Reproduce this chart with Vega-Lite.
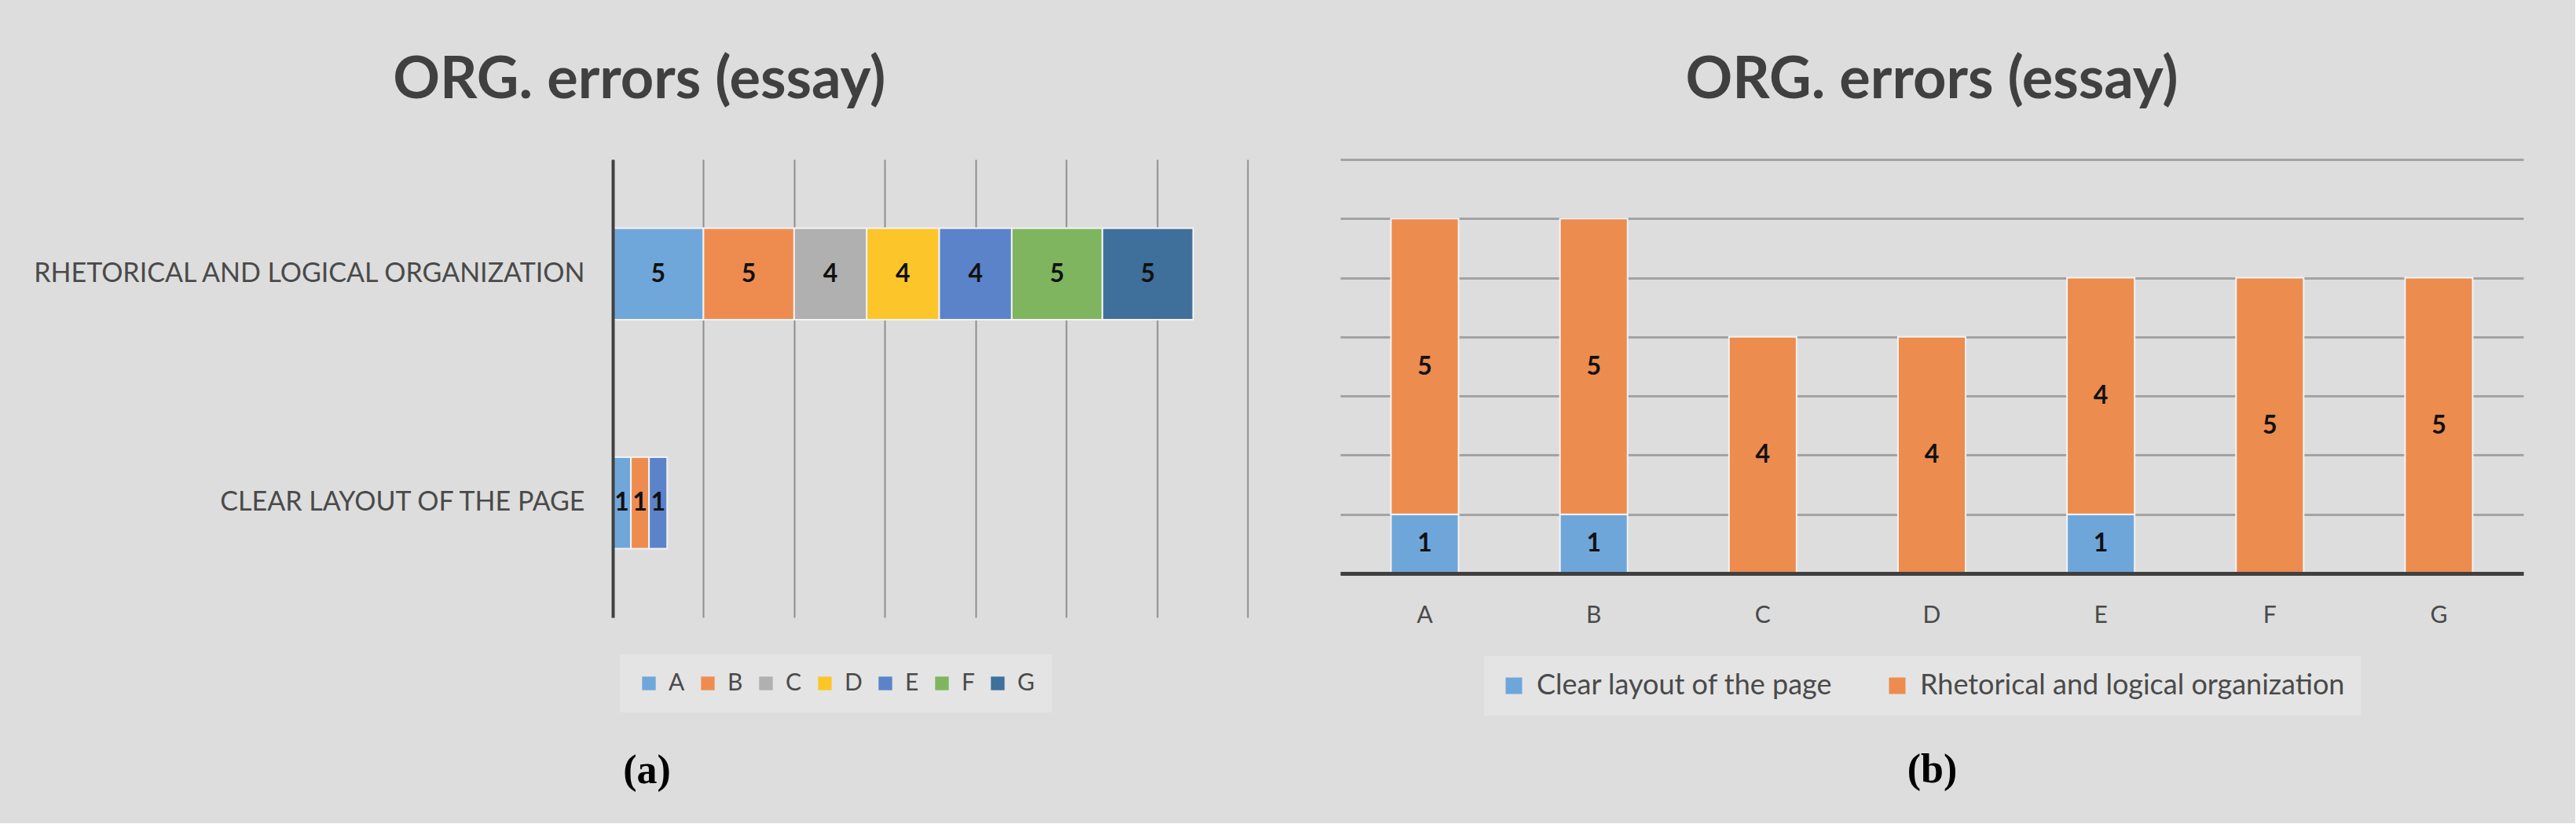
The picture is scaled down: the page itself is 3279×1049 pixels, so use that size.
{
  "$schema": "https://vega.github.io/schema/vega-lite/v6.json",
  "background": "#dddddd",
  "padding": {"left": 39, "top": 66, "right": 66, "bottom": 42},
  "spacing": 118,
  "config": {
    "view": {"stroke": null},
    "font": "Lato"
  },
  "data": {
    "values": [
      {"student": "A", "criterion": "Clear layout of the page", "errors": 1},
      {"student": "A", "criterion": "Rhetorical and logical organization", "errors": 5},
      {"student": "B", "criterion": "Clear layout of the page", "errors": 1},
      {"student": "B", "criterion": "Rhetorical and logical organization", "errors": 5},
      {"student": "C", "criterion": "Rhetorical and logical organization", "errors": 4},
      {"student": "D", "criterion": "Rhetorical and logical organization", "errors": 4},
      {"student": "E", "criterion": "Clear layout of the page", "errors": 1},
      {"student": "E", "criterion": "Rhetorical and logical organization", "errors": 4},
      {"student": "F", "criterion": "Rhetorical and logical organization", "errors": 5},
      {"student": "G", "criterion": "Rhetorical and logical organization", "errors": 5}
    ]
  },
  "resolve": {
    "scale": {"color": "independent", "x": "independent", "y": "independent"},
    "legend": {"color": "independent"}
  },
  "hconcat": [
    {
      "width": 808,
      "height": 583,
      "title": {
        "text": "ORG. errors (essay)",
        "anchor": "middle",
        "frame": "bounds",
        "offset": 4,
        "baseline": "alphabetic",
        "fontSize": 74,
        "font": "Lato",
        "fontWeight": "bold",
        "color": "#404040"
      },
      "encoding": {
        "y": {
          "field": "criterion",
          "type": "nominal",
          "sort": ["Rhetorical and logical organization", "Clear layout of the page"],
          "scale": {"paddingInner": 0.6, "paddingOuter": 0.3},
          "axis": {
            "title": null,
            "labelExpr": "upper(datum.label)",
            "labelFont": "Lato",
            "labelFontSize": 34,
            "labelColor": "#4a4a4a",
            "labelPadding": 36,
            "labelLimit": 1000,
            "ticks": false,
            "grid": false,
            "domain": true,
            "domainColor": "#404040",
            "domainWidth": 4,
            "minExtent": 733,
            "maxExtent": 733,
            "zindex": 1
          }
        }
      },
      "layer": [
        {
          "mark": {"type": "bar", "stroke": "#f2f2f2", "strokeWidth": 2},
          "encoding": {
            "x": {
              "field": "errors",
              "type": "quantitative",
              "stack": "zero",
              "scale": {"domain": [0, 35], "nice": false},
              "axis": {
                "values": [0, 5, 10, 15, 20, 25, 30, 35],
                "labels": false,
                "ticks": false,
                "domain": false,
                "grid": true,
                "gridColor": "#8f8f8f",
                "gridWidth": 2,
                "title": "(a)",
                "titleFont": "Liberation Serif",
                "titleFontSize": 52,
                "titleFontWeight": "bold",
                "titleColor": "#000000",
                "titleX": 43,
                "titleY": 210,
                "titleAlign": "center",
                "titleBaseline": "alphabetic"
              }
            },
            "order": {"field": "student", "type": "ordinal", "sort": "ascending"},
            "color": {
              "field": "student",
              "type": "nominal",
              "scale": {
                "domain": ["A", "B", "C", "D", "E", "F", "G"],
                "range": ["#70a7da", "#ee8c50", "#b0b0b0", "#fcc62a", "#5b83c9", "#7fb55e", "#3f6f9b"]
              },
              "legend": {
                "orient": "none",
                "legendX": 9,
                "legendY": 630,
                "direction": "horizontal",
                "title": null,
                "fillColor": "#e4e4e4",
                "padding": 22,
                "symbolType": "square",
                "symbolSize": 300,
                "symbolStrokeWidth": 0,
                "labelFont": "Lato",
                "labelFontSize": 30,
                "labelColor": "#4a4a4a",
                "labelOffset": 10,
                "columnPadding": 14
              }
            }
          }
        },
        {
          "mark": {"type": "text", "font": "Lato", "fontSize": 32, "fontWeight": "bold", "color": "#111111", "baseline": "middle"},
          "encoding": {
            "x": {"field": "errors", "type": "quantitative", "stack": "zero", "bandPosition": 0.5},
            "order": {"field": "student", "type": "ordinal", "sort": "ascending"},
            "detail": {"field": "student"},
            "text": {"field": "errors"}
          }
        }
      ]
    },
    {
      "width": 1506,
      "height": 527,
      "title": {
        "text": "ORG. errors (essay)",
        "anchor": "middle",
        "frame": "bounds",
        "offset": 4,
        "baseline": "alphabetic",
        "fontSize": 74,
        "font": "Lato",
        "fontWeight": "bold",
        "color": "#404040"
      },
      "encoding": {
        "x": {
          "field": "student",
          "type": "nominal",
          "scale": {"paddingInner": 0.6, "paddingOuter": 0.3},
          "axis": {
            "labelAngle": 0,
            "labelFont": "Lato",
            "labelFontSize": 30,
            "labelColor": "#4a4a4a",
            "labelPadding": 53,
            "labelBaseline": "middle",
            "ticks": false,
            "grid": false,
            "domain": true,
            "domainColor": "#404040",
            "domainWidth": 5,
            "zindex": 1,
            "title": "(b)",
            "titleFont": "Liberation Serif",
            "titleFontSize": 52,
            "titleFontWeight": "bold",
            "titleColor": "#000000",
            "titleX": 753,
            "titleY": 265,
            "titleAlign": "center",
            "titleBaseline": "alphabetic"
          }
        }
      },
      "layer": [
        {
          "mark": {"type": "bar", "stroke": "#f2f2f2", "strokeWidth": 2},
          "encoding": {
            "y": {
              "field": "errors",
              "type": "quantitative",
              "stack": "zero",
              "scale": {"domain": [0, 7], "nice": false},
              "axis": {
                "values": [0, 1, 2, 3, 4, 5, 6, 7],
                "labels": false,
                "ticks": false,
                "domain": false,
                "grid": true,
                "gridColor": "#a3a3a3",
                "gridWidth": 3,
                "title": null,
                "minExtent": 0,
                "maxExtent": 0
              }
            },
            "order": {"field": "criterion", "type": "ordinal", "sort": "ascending"},
            "color": {
              "field": "criterion",
              "type": "nominal",
              "scale": {
                "domain": ["Clear layout of the page", "Rhetorical and logical organization"],
                "range": ["#6fa6da", "#ec8c4e"]
              },
              "legend": {
                "orient": "none",
                "legendX": 183,
                "legendY": 632,
                "direction": "horizontal",
                "title": null,
                "fillColor": "#e4e4e4",
                "padding": 20,
                "symbolType": "square",
                "symbolSize": 441,
                "symbolStrokeWidth": 0,
                "labelFont": "Lato",
                "labelFontSize": 36,
                "labelColor": "#4a4a4a",
                "labelOffset": 11,
                "labelLimit": 1000,
                "columnPadding": 64
              }
            }
          }
        },
        {
          "mark": {"type": "text", "font": "Lato", "fontSize": 32, "fontWeight": "bold", "color": "#111111", "baseline": "middle"},
          "encoding": {
            "y": {"field": "errors", "type": "quantitative", "stack": "zero", "bandPosition": 0.5},
            "order": {"field": "criterion", "type": "ordinal", "sort": "ascending"},
            "detail": {"field": "criterion"},
            "text": {"field": "errors"}
          }
        }
      ]
    }
  ]
}
